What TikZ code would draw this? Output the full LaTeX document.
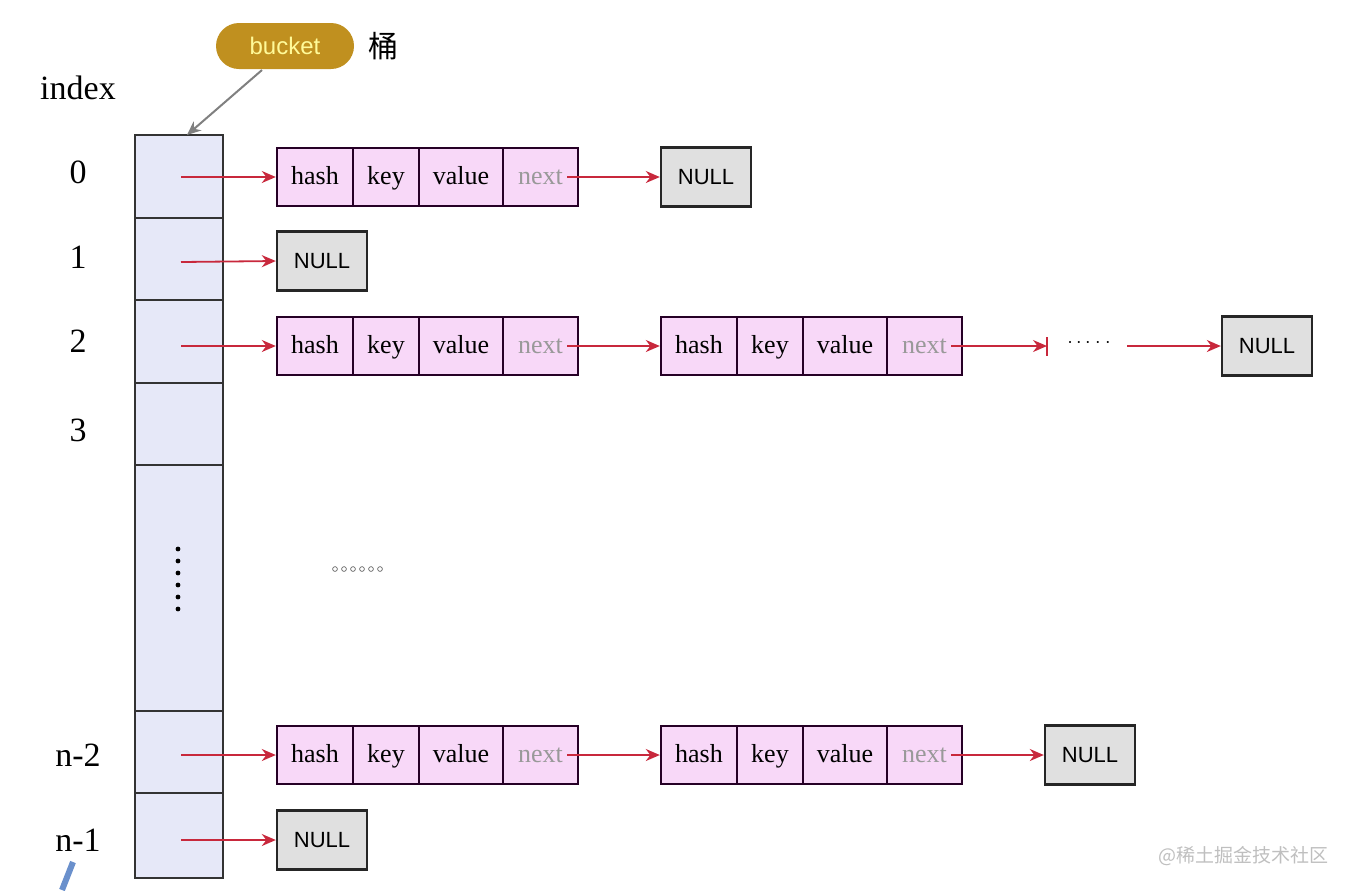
\documentclass[tikz,border=0pt]{standalone}
\usepackage{fontspec}
\newfontfamily\cjk{Noto Sans CJK SC}
\newfontfamily\lsans{Liberation Sans}
\newfontfamily\lserif{Liberation Serif}
\usetikzlibrary{arrows.meta}
\definecolor{bk}{HTML}{E6E8F8}
\definecolor{pk}{HTML}{F8D8F8}
\definecolor{nl}{HTML}{E0E0E0}
\definecolor{rd}{HTML}{C8283C}
\definecolor{gold}{HTML}{C0901F}
\definecolor{bl}{HTML}{6A90CC}
\tikzset{
 bcell/.style={draw=black!80,line width=1.2pt,fill=bk},
 cell/.style={draw=black!70!violet,line width=1.2pt,fill=pk,text height=9pt,text depth=2pt,font=\lserif\fontsize{13}{13}\selectfont},
 nullbox/.style={draw=black!85,line width=1.2pt,fill=nl,font=\lsans\fontsize{11}{11}\selectfont},
 lbl/.style={font=\lserif\fontsize{17}{17}\selectfont},
 ptr/.style={draw=rd,line width=0.9pt,-{Stealth[length=7pt,width=6pt]}}
}
\begin{document}
\begin{tikzpicture}[x=0.5pt,y=-0.5pt]
\useasboundingbox (0,0) rectangle (1347,890);
% bucket column
\foreach \a/\b in {135/218,218/300,300/383,383/465,465/711,711/793,793/878}{
  \path[bcell] (135,\a) rectangle (223,\b);
}
\foreach \y/\n in {177/r0,262/r1,346/r2,755/rm,840/rl}{\coordinate (\n) at (181,\y);}
% labels
\node[lbl] (iidx) at (78,88) {index};
\node[lbl] (i0) at (78,172) {0};
\node[lbl] (i1) at (78,257) {1};
\node[lbl] (i2) at (78,341) {2};
\node[lbl] (i3) at (78,430) {3};
\node[lbl] (im) at (78,755) {n-2};
\node[lbl] (il) at (78,840) {n-1};
% bucket bubble
\node[fill=gold,rounded corners=11.5pt,minimum width=69pt,minimum height=23pt,text=yellow!40!white,font=\lsans\fontsize{12}{12}\selectfont] (bucket) at (285,46) {bucket};
\node[font=\cjk\fontsize{15}{15}\selectfont] (tong) at (383,46) {桶};
\coordinate (btarget) at (187,135);
\draw[gray,line width=1pt,-{Stealth[length=7pt,width=6pt]}] (262,70) -- (btarget);
% entries
\newcommand{\entry}[3]{%
 \node[cell,minimum width=38pt,minimum height=29pt,inner sep=0pt] (#3h) at (#1+38,#2) {hash};
 \node[cell,minimum width=33pt,minimum height=29pt,inner sep=0pt] (#3k) at (#1+109,#2) {key};
 \node[cell,minimum width=42pt,minimum height=29pt,inner sep=0pt] (#3v) at (#1+184,#2) {value};
 \node[cell,minimum width=37.5pt,minimum height=29pt,inner sep=0pt,text=gray!80] (#3n) at (#1+263.5,#2) {next};
}
\newcommand{\nul}[3]{\node[nullbox,minimum width=45pt,minimum height=29.5pt,inner sep=0pt] (#3) at (#1,#2) {NULL};}
\entry{277}{177}{a}
\nul{706}{177}{na}
\nul{322}{261}{nb}
\entry{277}{346}{c}
\entry{661}{346}{d}
\nul{1267}{346}{nc}
\entry{277}{755}{e}
\entry{661}{755}{f}
\nul{1090}{755}{ne}
\nul{322}{840}{nf}
% pointers
\draw[ptr] (r0) -- (ah.west);
\draw[ptr] ([xshift=-6pt]an.east) -- (na.west);
\draw[ptr] (r1) -- (nb.west);
\draw[ptr] (r2) -- (ch.west);
\draw[ptr] ([xshift=-6pt]cn.east) -- (dh.west);
\coordinate (bar) at (1047,346);
\draw[ptr] ([xshift=-6pt]dn.east) -- (bar);
\draw[rd,line width=0.9pt] (1047,337) -- (1047,356);
\node[font=\bfseries,inner sep=0pt] (hdots) at (1089,343) {$\cdots\cdot\cdot$};
\coordinate (cstart) at (1127,346);
\draw[ptr] (cstart) -- (nc.west);
\draw[ptr] (rm) -- (eh.west);
\draw[ptr] ([xshift=-6pt]en.east) -- (fh.west);
\draw[ptr] ([xshift=-6pt]fn.east) -- (ne.west);
\draw[ptr] (rl) -- (nf.west);
% dots
\foreach \y in {549,561,573,585,597,609}{\fill (178,\y) circle (1.2pt);}
\foreach \x in {335,344,353,362,371,380}{\draw[black!70,line width=0.3pt] (\x,569) circle (1.2pt);}
% watermark
\node[text=gray!50,font=\cjk\fontsize{9.5}{9.5}\selectfont] (wm) at (1243,856) {@稀土掘金技术社区};
\draw[bl,line width=3pt] (73,862) -- (62,890);
\end{tikzpicture}
\end{document}
